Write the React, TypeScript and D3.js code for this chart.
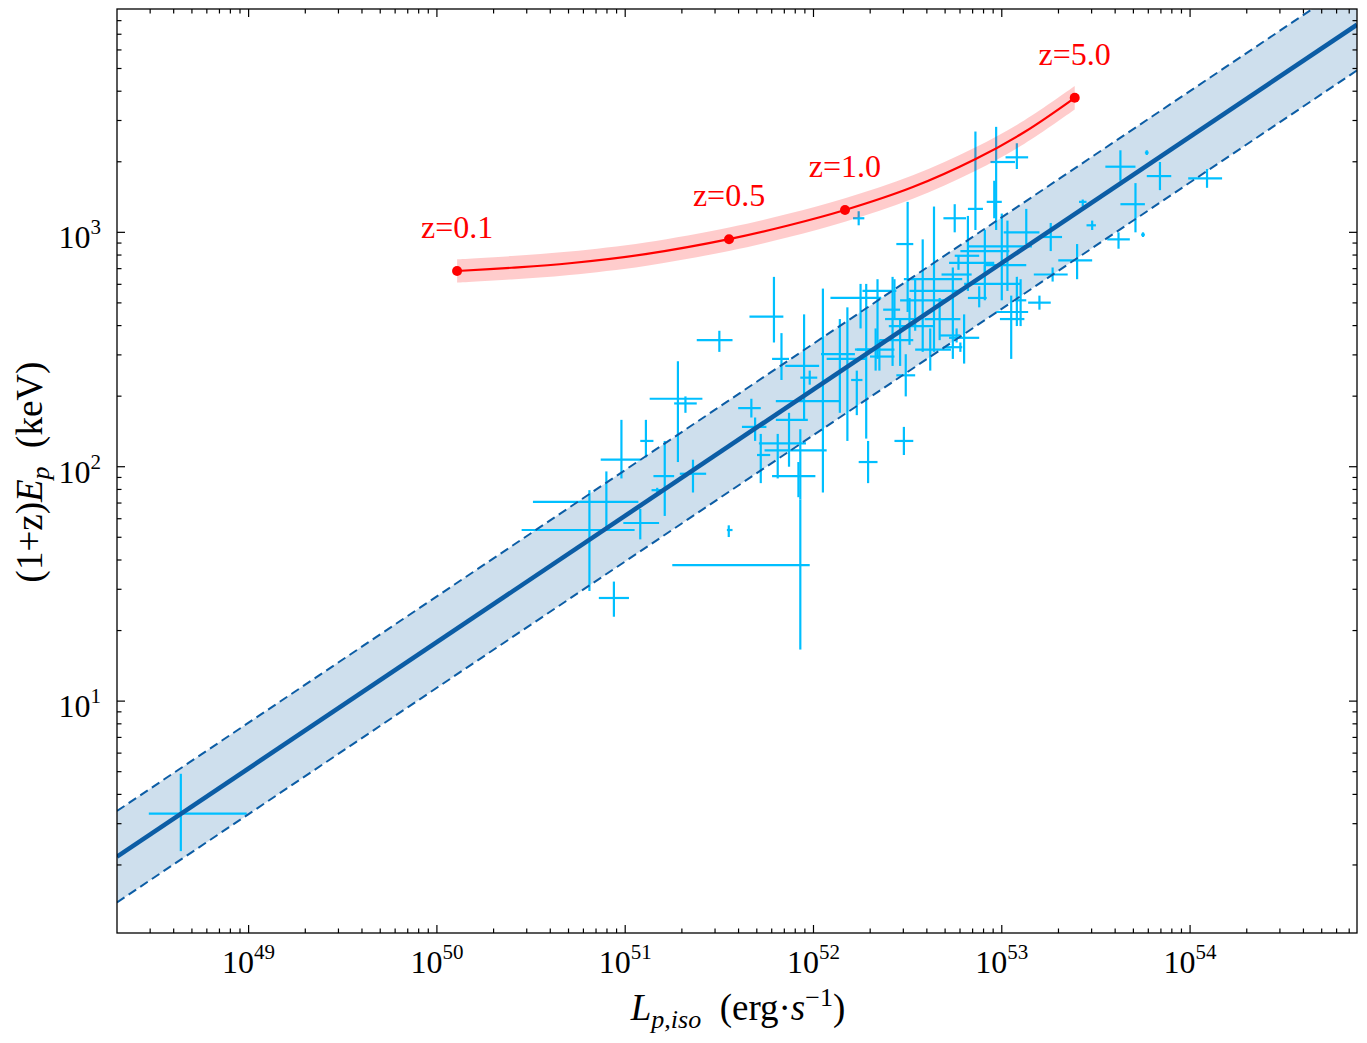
import React from "react";
import * as d3 from "d3";

const W = 1367;
const H = 1043;
const left = 117, right = 1357, top = 9, bottom = 933;

// axis limits and ticks
const xLim = [2.0e48, 7.7e54];
const yLim = [1.025, 8970];
const xMajorExp = [49, 50, 51, 52, 53, 54];
const yMajorExp = [1, 2, 3];

// best fit: log Ep = fitNorm + fitSlope * log(L / 1e52), +/- fitScatter dex
const fitSlope = 0.539;
const fitNorm = 2.33;
const fitScatter = 0.195;

// redshift track of one burst
const trackL = [1.28e50, 2.49e50, 5.07e50, 1.28e51, 3.56e51, 7.33e51, 1.47e52, 3.37e52, 7.26e52, 1.32e53, 2.44e53];
const trackE = [684, 706, 738, 807, 935, 1069, 1245, 1560, 2055, 2680, 3750];
const trackBand = 0.05;
const zLabels = ["z=0.1", "z=0.5", "z=1.0", "z=5.0"];
const zL = [1.28e50, 3.56e51, 1.47e52, 2.44e53];
const zE = [684, 935, 1245, 3750];

// sample (log10 values, errors in dex)
const logL = [48.64, 50.81, 50.90, 50.94, 50.98, 51.08, 51.11, 51.21, 51.17, 51.36,
  51.28, 51.32, 51.50, 51.55, 51.93, 51.67, 51.69, 51.79, 51.83, 51.95,
  51.98, 52.05, 51.72, 51.81, 51.93, 51.87, 51.92, 52.14, 52.18, 52.23,
  52.28, 52.29, 52.25, 52.34, 52.43, 52.33, 52.35, 52.24, 52.48, 52.50,
  52.86, 52.82, 52.75, 52.58, 52.64, 52.74, 52.80, 52.42, 52.51, 52.46,
  52.97, 53.08, 52.96, 52.91, 53.00, 53.13, 53.26, 53.08, 53.05, 53.20,
  53.27, 53.40, 53.43, 53.48, 53.62, 53.71, 53.75, 53.63, 53.77, 53.84,
  54.09, 52.88, 52.77, 52.76, 52.78, 53.10, 52.49, 52.62, 52.91, 53.03,
  52.67, 52.54];
const logLErrLo = [0.17, 0.36, 0.39, 0.08, 0.11, 0.09, 0.03, 0.06, 0.03, 0.07,
  0.15, 0.06, 0.12, 0.01, 0.68, 0.07, 0.07, 0.13, 0.05, 0.10,
  0.05, 0.25, 0.02, 0.10, 0.19, 0.07, 0.14, 0.10, 0.11, 0.03,
  0.06, 0.05, 0.16, 0.08, 0.06, 0.10, 0.05, 0.03, 0.05, 0.06,
  0.04, 0.07, 0.06, 0.10, 0.13, 0.06, 0.08, 0.04, 0.11, 0.11,
  0.03, 0.06, 0.04, 0.13, 0.18, 0.12, 0.05, 0.11, 0.06, 0.06,
  0.10, 0.10, 0.02, 0.03, 0.06, 0.08, 0.01, 0.08, 0.01, 0.07,
  0.10, 0.06, 0.05, 0.09, 0.09, 0.03, 0.05, 0.08, 0.11, 0.12,
  0.08, 0.08];
const logLErrHi = [0.35, 0.24, 0.17, 0.08, 0.10, 0.10, 0.04, 0.05, 0.02, 0.07,
  0.13, 0.06, 0.07, 0.02, 0.05, 0.05, 0.06, 0.05, 0.04, 0.08,
  0.04, 0.09, 0.05, 0.15, 0.14, 0.10, 0.09, 0.08, 0.10, 0.03,
  0.07, 0.05, 0.11, 0.10, 0.03, 0.10, 0.08, 0.03, 0.05, 0.03,
  0.04, 0.06, 0.06, 0.21, 0.13, 0.10, 0.08, 0.12, 0.13, 0.07,
  0.10, 0.06, 0.04, 0.13, 0.16, 0.07, 0.06, 0.06, 0.07, 0.06,
  0.08, 0.08, 0.02, 0.02, 0.06, 0.05, 0.01, 0.08, 0.01, 0.06,
  0.08, 0.04, 0.19, 0.02, 0.01, 0.03, 0.05, 0.11, 0.19, 0.10,
  0.11, 0.16];
const logE = [0.52, 1.73, 1.85, 1.44, 2.03, 1.76, 2.11, 1.96, 1.90, 1.97,
  2.29, 2.27, 2.54, 1.73, 1.58, 2.25, 2.17, 2.64, 2.46, 2.43,
  2.38, 2.28, 2.05, 2.10, 2.07, 2.20, 1.96, 2.48, 2.46, 2.37,
  2.50, 2.02, 2.72, 2.75, 2.67, 2.50, 2.47, 3.06, 2.11, 2.95,
  3.10, 2.90, 3.06, 2.80, 2.75, 2.82, 2.55, 2.63, 2.60, 2.54,
  3.30, 3.32, 3.13, 2.92, 2.94, 3.00, 2.98, 2.66, 2.63, 2.70,
  2.82, 2.88, 3.13, 3.03, 2.97, 3.12, 2.99, 3.28, 3.34, 3.24,
  3.23, 2.72, 2.87, 2.56, 2.51, 2.71, 2.39, 2.50, 2.78, 2.86,
  2.63, 2.71];
const logEErrLo = [0.16, 0.26, 0.11, 0.08, 0.08, 0.07, 0.07, 0.17, 0.01, 0.08,
  0.27, 0.04, 0.05, 0.03, 0.36, 0.04, 0.06, 0.11, 0.09, 0.23,
  0.03, 0.39, 0.12, 0.15, 0.21, 0.20, 0.09, 0.25, 0.35, 0.15,
  0.38, 0.09, 0.13, 0.29, 0.04, 0.09, 0.06, 0.03, 0.06, 0.29,
  0.09, 0.15, 0.06, 0.31, 0.26, 0.36, 0.11, 0.20, 0.08, 0.11,
  0.29, 0.05, 0.07, 0.11, 0.23, 0.05, 0.06, 0.06, 0.17, 0.03,
  0.03, 0.08, 0.02, 0.02, 0.04, 0.12, 0.01, 0.06, 0.01, 0.06,
  0.04, 0.04, 0.03, 0.03, 0.02, 0.11, 0.09, 0.09, 0.07, 0.11,
  0.09, 0.13];
const logEErrHi = [0.17, 0.17, 0.13, 0.07, 0.17, 0.06, 0.09, 0.15, 0.01, 0.06,
  0.16, 0.03, 0.04, 0.02, 0.28, 0.04, 0.04, 0.17, 0.11, 0.22,
  0.03, 0.48, 0.09, 0.04, 0.09, 0.03, 0.06, 0.15, 0.22, 0.04,
  0.28, 0.09, 0.06, 0.05, 0.13, 0.09, 0.07, 0.03, 0.06, 0.18,
  0.33, 0.17, 0.06, 0.17, 0.36, 0.03, 0.10, 0.18, 0.12, 0.09,
  0.15, 0.06, 0.09, 0.09, 0.14, 0.10, 0.06, 0.15, 0.10, 0.03,
  0.03, 0.07, 0.01, 0.02, 0.03, 0.09, 0.01, 0.07, 0.01, 0.06,
  0.04, 0.05, 0.03, 0.03, 0.02, 0.09, 0.09, 0.09, 0.08, 0.19,
  0.09, 0.09];

const fitColor = "#0C5DA5";
const errColor = "#00BFFF";
const font = "'Liberation Serif', 'DejaVu Serif', serif";

const x = d3.scaleLog().domain(xLim).range([left, right]);
const y = d3.scaleLog().domain(yLim).range([bottom, top]);
const p10 = (v: number) => Math.pow(10, v);

export default function App() {
    const fitAt = (L: number, off: number) => p10(fitNorm + off + fitSlope * (Math.log10(L) - 52));
    const fitLine = (off: number) =>
        d3.line<number>().x(L => x(L)).y(L => y(fitAt(L, off)))(xLim) as string;
    const fitBand = d3.area<number>()
        .x(L => x(L))
        .y0(L => y(fitAt(L, -fitScatter)))
        .y1(L => y(fitAt(L, fitScatter)))(xLim) as string;

    const idx = trackL.map((_, i) => i);
    const trackLine = d3.line<number>()
        .x(i => x(trackL[i])).y(i => y(trackE[i]))
        .curve(d3.curveCatmullRom)(idx) as string;
    const trackArea = d3.area<number>()
        .x(i => x(trackL[i]))
        .y0(i => y(trackE[i] * p10(-trackBand)))
        .y1(i => y(trackE[i] * p10(trackBand)))
        .curve(d3.curveCatmullRom)(idx) as string;

    // minor ticks
    const xMinor: number[] = [];
    for (let e = 48; e <= 54; e++) for (let k = 2; k <= 9; k++) {
        const v = k * p10(e);
        if (v > xLim[0] && v < xLim[1]) xMinor.push(v);
    }
    const yMinor: number[] = [];
    for (let e = 0; e <= 3; e++) for (let k = 2; k <= 9; k++) {
        const v = k * p10(e);
        if (v > yLim[0] && v < yLim[1]) yMinor.push(v);
    }

    return (
        <svg width={W} height={H} style={{ position: "absolute", left: 0, top: 0, background: "#fff" }}
            fontFamily={font}>
            <defs>
                <clipPath id="plot"><rect x={left} y={top} width={right - left} height={bottom - top} /></clipPath>
            </defs>
            <g clipPath="url(#plot)">
                <path d={fitBand} fill={fitColor} opacity={0.2} />
                <g stroke={errColor} strokeWidth={2.2}>
                    {logL.map((l, i) => {
                        const cx = x(p10(l)), cy = y(p10(logE[i]));
                        return (
                            <g key={i}>
                                <line x1={x(p10(l - logLErrLo[i]))} x2={x(p10(l + logLErrHi[i]))} y1={cy} y2={cy} />
                                <line x1={cx} x2={cx} y1={y(p10(logE[i] - logEErrLo[i]))} y2={y(p10(logE[i] + logEErrHi[i]))} />
                            </g>
                        );
                    })}
                </g>
                <path d={fitLine(0)} stroke={fitColor} strokeWidth={4.5} fill="none" />
                <path d={fitLine(fitScatter)} stroke={fitColor} strokeWidth={2} strokeDasharray="9,5" fill="none" />
                <path d={fitLine(-fitScatter)} stroke={fitColor} strokeWidth={2} strokeDasharray="9,5" fill="none" />
                <path d={trackArea} fill="red" opacity={0.2} />
                <path d={trackLine} stroke="red" strokeWidth={2.2} fill="none" />
                {zL.map((L, i) => (
                    <circle key={i} cx={x(L)} cy={y(zE[i])} r={5} fill="red" />
                ))}
            </g>
            {zL.map((L, i) => (
                <text key={i} x={x(L)} y={y(zE[i]) - 33} textAnchor="middle" fontSize={32} fill="red">{zLabels[i]}</text>
            ))}

            {/* frame and ticks */}
            <rect x={left} y={top} width={right - left} height={bottom - top} fill="none" stroke="#000" strokeWidth={1.3} />
            <g stroke="#000" strokeWidth={1.2}>
                {xMajorExp.map(e => {
                    const px = x(p10(e));
                    return <g key={e}>
                        <line x1={px} x2={px} y1={bottom} y2={bottom - 8} />
                        <line x1={px} x2={px} y1={top} y2={top + 8} />
                    </g>;
                })}
                {xMinor.map((v, i) => {
                    const px = x(v);
                    return <g key={i}>
                        <line x1={px} x2={px} y1={bottom} y2={bottom - 4.5} />
                        <line x1={px} x2={px} y1={top} y2={top + 4.5} />
                    </g>;
                })}
                {yMajorExp.map(e => {
                    const py = y(p10(e));
                    return <g key={e}>
                        <line x1={left} x2={left + 8} y1={py} y2={py} />
                        <line x1={right} x2={right - 8} y1={py} y2={py} />
                    </g>;
                })}
                {yMinor.map((v, i) => {
                    const py = y(v);
                    return <g key={i}>
                        <line x1={left} x2={left + 4.5} y1={py} y2={py} />
                        <line x1={right} x2={right - 4.5} y1={py} y2={py} />
                    </g>;
                })}
            </g>
            {xMajorExp.map(e => (
                <text key={e} x={x(p10(e))} y={973} textAnchor="middle" fontSize={32}>
                    <tspan>10</tspan><tspan dy={-14} fontSize={21}>{e}</tspan>
                </text>
            ))}
            {yMajorExp.map(e => (
                <text key={e} x={101} y={y(p10(e)) + 16} textAnchor="end" fontSize={32}>
                    <tspan>10</tspan><tspan dy={-14} fontSize={21}>{e}</tspan>
                </text>
            ))}

            {/* axis labels */}
            <text x={738} y={1020} textAnchor="middle" fontSize={37}>
                <tspan fontStyle="italic">L</tspan>
                <tspan fontStyle="italic" fontSize={26} dy={8}>{"p,iso"}</tspan>
                <tspan dy={-8}>{"\u00a0\u00a0(erg·"}</tspan>
                <tspan fontStyle="italic">s</tspan>
                <tspan fontSize={26} dy={-14}>{"−1"}</tspan>
                <tspan dy={14}>{")"}</tspan>
            </text>
            <text transform="translate(42,472) rotate(-90)" textAnchor="middle" fontSize={37}>
                <tspan>{"(1+z)"}</tspan>
                <tspan fontStyle="italic">E</tspan>
                <tspan fontStyle="italic" fontSize={26} dy={7}>p</tspan>
                <tspan dy={-7}>{"\u00a0\u00a0(keV)"}</tspan>
            </text>
        </svg>
    );
}
